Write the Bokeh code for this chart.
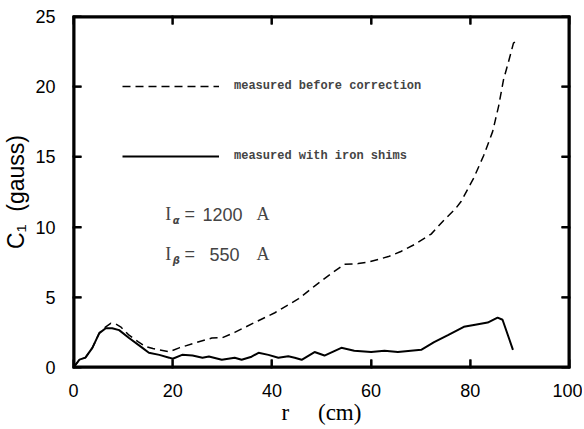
from bokeh.plotting import figure
from bokeh.models import (LinearAxis, FixedTicker, Legend, LegendItem, Label,
                          ColumnDataSource, Span)
from bokeh.embed import file_html
from bokeh.resources import INLINE

# ---------------- data ----------------
x_ticks = [0, 20, 40, 60, 80, 100]
y_ticks = [0, 5, 10, 15, 20, 25]

r_before = [0, 1.2, 2.4, 3.8, 5.2, 6.5, 7.5, 8.5, 9.5, 11.2, 13, 14.5, 16,
            17.3, 19.3, 21.3, 24.5, 27.9, 30, 32.5, 36.5, 40.6, 42, 45.4,
            48.6, 52, 54.6, 57.4, 59.4, 63.5, 66, 68.7, 72.1, 74.7, 77, 78.1,
            80.7, 82.7, 84.5, 85.7, 86.7, 87.8, 88.7, 89.4]
c_before = [0, 0.56, 0.7, 1.4, 2.45, 2.9, 3.15, 3.1, 2.9, 2.3, 1.85, 1.5,
            1.35, 1.26, 1.12, 1.4, 1.75, 2.1, 2.12, 2.5, 3.2, 3.9, 4.2, 4.9,
            5.8, 6.7, 7.35, 7.4, 7.5, 7.9, 8.26, 8.75, 9.5, 10.5, 11.3, 11.8,
            13.5, 15.1, 16.8, 18.6, 20.5, 21.9, 23.1, 23.3]

r_shims = [0, 1.2, 2.4, 3.8, 5.2, 6.5, 7.8, 9.2, 11.2, 13.9, 15.2, 17.3,
           19.3, 20, 21.9, 24, 26, 27.3, 29.9, 32.5, 33.9, 35.9, 37.3, 39.3,
           41.3, 43.3, 44.6, 46, 48.6, 50.6, 54, 56.6, 60, 62.7, 65.4, 68,
           70.1, 72.7, 75.5, 78.7, 81, 83.5, 85.5, 86.5, 88.6]
c_shims = [0, 0.56, 0.7, 1.4, 2.45, 2.8, 2.8, 2.66, 2.1, 1.4, 1.05, 0.9,
           0.7, 0.62, 0.9, 0.85, 0.7, 0.78, 0.55, 0.7, 0.55, 0.77, 1.05, 0.9,
           0.7, 0.8, 0.7, 0.55, 1.1, 0.85, 1.4, 1.2, 1.1, 1.2, 1.1, 1.2,
           1.26, 1.8, 2.3, 2.9, 3.05, 3.2, 3.55, 3.4, 1.26]

label_before = "measured before correction"
label_shims = "measured with iron shims"

NB = "\u00a0"
X0, X1 = x_ticks[0], x_ticks[-1]
Y0, Y1 = y_ticks[0], y_ticks[-1]

# ---------------- figure ----------------
p = figure(width=582, height=427, x_range=(X0, X1), y_range=(Y0, Y1),
           output_backend="svg", toolbar_location=None,
           min_border_left=71, min_border_right=13, min_border_top=16,
           min_border_bottom=54)
p.background_fill_color = "#ffffff"
p.border_fill_color = "#ffffff"
p.xgrid.grid_line_color = None
p.ygrid.grid_line_color = None
p.outline_line_color = "#000000"
p.outline_line_width = 2


def style_axis(ax, ticks, show_labels):
    ax.ticker = FixedTicker(ticks=ticks)
    ax.major_tick_in = 8
    ax.major_tick_out = 1
    ax.minor_tick_line_color = None
    ax.major_tick_line_color = "#000000"
    ax.major_tick_line_width = 2
    ax.axis_line_color = "#000000"
    ax.axis_line_width = 2
    ax.major_label_text_font = "Liberation Sans"
    ax.major_label_text_font_size = "18px"
    ax.major_label_text_color = "#000000" if show_labels else None


xb = p.xaxis[0]
style_axis(xb, x_ticks, True)
xb.major_label_standoff = 15
xb.axis_label = "r" + NB * 5 + "(cm)"
xb.axis_label_text_font = "Liberation Serif"
xb.axis_label_text_font_style = "normal"
xb.axis_label_text_font_size = "23px"
xb.axis_label_text_color = "#000000"
xb.axis_label_standoff = 0

yl = p.yaxis[0]
style_axis(yl, y_ticks, True)
yl.major_label_standoff = 17
yl.axis_label = "C\u2081" + NB * 2 + "(gauss)"
yl.axis_label_text_font = "Liberation Sans"
yl.axis_label_text_font_style = "normal"
yl.axis_label_text_font_size = "23px"
yl.axis_label_text_color = "#000000"
yl.axis_label_standoff = 3

xt = LinearAxis()
style_axis(xt, x_ticks, False)
xt.major_label_text_font_size = "1px"
xt.major_label_standoff = 0
p.add_layout(xt, "above")

yr = LinearAxis()
style_axis(yr, y_ticks, False)
yr.major_label_text_font_size = "1px"
yr.major_label_standoff = 0
p.add_layout(yr, "right")

# ---------------- frame and inward ticks as filled bars ----------------
xmid = (X0 + X1) / 2
ymid = (Y0 + Y1) / 2
span_x = X1 - X0
span_y = Y1 - Y0
p.rect(x=[xmid, xmid], y=[Y0, Y1], width=span_x, height=4,
       height_units="screen", fill_color="#000000", line_color=None)
p.rect(x=[X0, X1], y=[ymid, ymid], width=4, width_units="screen",
       height=span_y, fill_color="#000000", line_color=None)
inner_x = x_ticks[1:-1]
inner_y = y_ticks[1:-1]
p.rect(x=inner_x + inner_x, y=[Y0] * len(inner_x) + [Y1] * len(inner_x),
       width=2, height=16, width_units="screen", height_units="screen",
       fill_color="#000000", line_color=None)
p.rect(x=[X0] * len(inner_y) + [X1] * len(inner_y), y=inner_y + inner_y,
       width=16, height=2, width_units="screen", height_units="screen",
       fill_color="#000000", line_color=None)

# ---------------- curves ----------------
src_b = ColumnDataSource(dict(r=r_before, c=c_before))
src_s = ColumnDataSource(dict(r=r_shims, c=c_shims))
lb = p.line("r", "c", source=src_b, line_color="#000000", line_width=1.5,
            line_dash="8 5")
ls = p.line("r", "c", source=src_s, line_color="#000000", line_width=2)

legend = Legend(items=[LegendItem(label=label_before, renderers=[lb]),
                       LegendItem(label=label_shims, renderers=[ls])],
                location=(49, 201), orientation="vertical",
                glyph_width=97, glyph_height=20, spacing=50,
                label_standoff=15, padding=0, margin=0,
                border_line_color=None, background_fill_color=None,
                label_text_font="Liberation Mono", label_text_font_style="bold",
                label_text_font_size="12px", label_height=20)
p.add_layout(legend, "center")

# ---------------- current annotations ----------------
for yy, sub, num, nx in [(10.9, "\u03b1", "1200", 26.0),
                         (8.05, "\u03b2", "550", 27.4)]:
    p.add_layout(Label(x=18.5, y=yy, text="I", text_font="Liberation Serif",
                       text_font_size="18px", text_baseline="alphabetic"))
    p.add_layout(Label(x=20.0, y=yy - 0.45, text=sub,
                       text_font="DejaVu Sans", text_font_style="bold italic",
                       text_font_size="10px", text_baseline="alphabetic"))
    p.add_layout(Label(x=22.4, y=yy, text="=", text_font="Liberation Sans",
                       text_font_size="18px", text_baseline="alphabetic"))
    p.add_layout(Label(x=nx, y=yy, text=num, text_font="Liberation Sans",
                       text_font_size="18px", text_baseline="alphabetic"))
    p.add_layout(Label(x=36.9, y=yy, text="A", text_font="Liberation Serif",
                       text_font_size="18px", text_baseline="alphabetic"))

# frame also drawn as spans along the range limits
for loc, dim in [(Y0, "width"), (Y1, "width"), (X0, "height"), (X1, "height")]:
    p.add_layout(Span(location=loc, dimension=dim, line_color="#000000",
                      line_width=2))

open("out.html", "w").write(file_html(p, INLINE))
